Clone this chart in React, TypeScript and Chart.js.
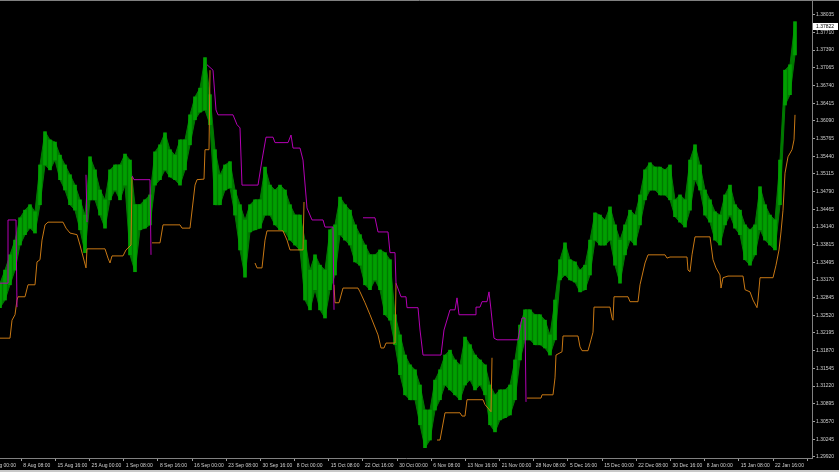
import React, { useEffect, useRef } from "react";
import { Chart, registerables } from "chart.js";

Chart.register(...registerables);

// Each price point covers this many chart bars (1 bar = 1 slot on the time axis)
const BARS_PER_BLOCK = 5;

// Price range (high / low) of each block, left to right
const priceHigh = [
  1.3311, 1.3335, 1.3363, 1.339, 1.3431, 1.3445, 1.3455, 1.3442, 1.3528, 1.3589,
  1.3574, 1.357, 1.3546, 1.3528, 1.351, 1.3491, 1.3464, 1.3436, 1.3543, 1.3519,
  1.3482, 1.3464, 1.3519, 1.3528, 1.3528, 1.3548, 1.3537, 1.3455, 1.3455, 1.3464,
  1.3473, 1.3552, 1.3565, 1.3587, 1.3556, 1.3546, 1.3574, 1.3574, 1.362, 1.3653,
  1.3669, 1.3725, 1.3657, 1.3556, 1.351, 1.3528, 1.3534, 1.3482, 1.3455, 1.3427,
  1.3455, 1.3464, 1.3464, 1.3524, 1.3491, 1.3482, 1.3491, 1.3482, 1.3455, 1.3436,
  1.3436, 1.339, 1.3335, 1.3363, 1.3344, 1.3335, 1.3409, 1.3418, 1.3469, 1.3455,
  1.3445, 1.3418, 1.34, 1.3381, 1.3363, 1.3363, 1.3372, 1.3367, 1.3354, 1.3253,
  1.3216, 1.3179, 1.3161, 1.3152, 1.3124, 1.3078, 1.3078, 1.3133, 1.3152, 1.3179,
  1.3188, 1.317, 1.3161, 1.3212, 1.3198, 1.3179, 1.317, 1.3161, 1.3124, 1.3106,
  1.3115, 1.3115, 1.3124, 1.317, 1.3234, 1.3262, 1.3262, 1.3253, 1.3253, 1.3243,
  1.3216, 1.328, 1.3354, 1.3385, 1.3354, 1.335, 1.3335, 1.3344, 1.339, 1.344,
  1.3436, 1.3427, 1.3451, 1.3418, 1.339, 1.3418, 1.3445, 1.3436, 1.3473, 1.3519,
  1.3532, 1.3524, 1.3524, 1.3519, 1.3528, 1.3464, 1.3473, 1.3464, 1.3537, 1.3565,
  1.3528, 1.3482, 1.3464, 1.3442, 1.3436, 1.3473, 1.3491, 1.3455, 1.3445, 1.3418,
  1.3409, 1.3418, 1.3488, 1.3455, 1.3436, 1.3427, 1.3537, 1.3702, 1.3712, 1.3791,
];

const priceLow = [
  1.3266, 1.328, 1.3308, 1.3335, 1.3381, 1.34, 1.3412, 1.3403, 1.3455, 1.3528,
  1.3519, 1.3537, 1.3501, 1.3482, 1.3455, 1.3445, 1.3409, 1.3367, 1.3464, 1.3464,
  1.3436, 1.3412, 1.3464, 1.3482, 1.3464, 1.3491, 1.3363, 1.3332, 1.3409, 1.3412,
  1.3418, 1.3491, 1.3501, 1.3519, 1.3506, 1.3501, 1.3491, 1.3519, 1.3565, 1.3611,
  1.3625, 1.3629, 1.3602, 1.3455, 1.3455, 1.3482, 1.3486, 1.3436, 1.3372, 1.3322,
  1.3405, 1.3409, 1.3412, 1.3436, 1.3436, 1.3418, 1.3409, 1.3405, 1.339, 1.3381,
  1.3372, 1.328, 1.3262, 1.3299, 1.3262, 1.3247, 1.3299, 1.3326, 1.34, 1.339,
  1.3381, 1.335, 1.3344, 1.3308, 1.3299, 1.3317, 1.3299, 1.3253, 1.3243, 1.3198,
  1.3143, 1.3106, 1.3097, 1.3097, 1.3051, 1.3009, 1.3023, 1.3078, 1.3097, 1.3124,
  1.3115, 1.3106, 1.3097, 1.3124, 1.3133, 1.3115, 1.3124, 1.3106, 1.3051, 1.3038,
  1.306, 1.3064, 1.3069, 1.3097, 1.317, 1.3207, 1.3207, 1.3198, 1.3198, 1.3192,
  1.3179, 1.3207, 1.3317, 1.3326, 1.3317, 1.3313, 1.3295, 1.3299, 1.3326, 1.339,
  1.3381, 1.3381, 1.339, 1.3344, 1.3311, 1.3363, 1.339, 1.3381, 1.3418, 1.3464,
  1.3482, 1.3482, 1.3473, 1.3473, 1.3464, 1.3433, 1.3423, 1.3414, 1.3445, 1.3501,
  1.3482, 1.3436, 1.3423, 1.339, 1.3381, 1.3418, 1.3436, 1.3412, 1.34, 1.3354,
  1.3344, 1.3363, 1.3409, 1.339, 1.3381, 1.3372, 1.3455, 1.3638, 1.3657, 1.373,
];

// Upper channel (magenta): [bar, price], null price = break
const upperLine: [number, number | null][] = [
  [0, 1.3311], [8, 1.3311], [8, 1.3427], [16, 1.3427], [17, 1.3267], [17, null],
  [86, 1.351], [87, 1.3423], [87, null],
  [132, 1.3508], [134, 1.3501], [150, 1.3501], [151, 1.3363], [151, null],
  [207, 1.3712], [213, 1.3702], [216, 1.3629], [218, 1.362], [233, 1.362], [237, 1.3602],
  [240, 1.3596], [242, 1.3491], [258, 1.3491], [262, 1.3537], [266, 1.3579], [273, 1.3579],
  [275, 1.3569], [288, 1.3569], [291, 1.3583], [293, 1.3559], [300, 1.3559], [303, 1.3537],
  [307, 1.3449], [312, 1.3427], [323, 1.3427], [325, 1.3414], [333, 1.3414], [334, 1.3262],
  [334, null],
  [363, 1.3431], [375, 1.3431], [378, 1.3405], [388, 1.3405], [390, 1.3367], [395, 1.3367],
  [396, 1.3311], [401, 1.3286], [406, 1.3286], [407, 1.3266], [418, 1.3266], [420, 1.3225],
  [423, 1.3179], [441, 1.3179], [444, 1.3225], [450, 1.3262], [455, 1.3262], [457, 1.3284],
  [459, 1.3253], [475, 1.3253], [476, 1.3267], [480, 1.3267], [482, 1.3277], [487, 1.3277],
  [489, 1.3295], [491, 1.3262], [494, 1.321], [497, 1.3207], [518, 1.3207], [522, 1.3247],
  [525, 1.3247], [526, 1.3093],
];

// Lower channel (orange): [bar, price], null price = break
const lowerLine: [number, number | null][] = [
  [0, 1.321], [10, 1.321], [12, 1.3243], [15, 1.3253], [17, 1.328], [18, 1.3286], [25, 1.3286],
  [28, 1.3308], [35, 1.3308], [37, 1.335], [40, 1.3354], [42, 1.339], [45, 1.3418], [48, 1.3423],
  [63, 1.3423], [66, 1.3412], [70, 1.3403], [77, 1.34], [80, 1.3381], [86, 1.3339], [87, 1.3374],
  [105, 1.3374], [108, 1.3357], [110, 1.3348], [112, 1.3361], [123, 1.3361], [126, 1.3372],
  [131, 1.3381], [132, 1.3506], [132, null],
  [152, 1.3385], [160, 1.3385], [163, 1.3418], [180, 1.3418], [182, 1.3412], [190, 1.3412],
  [195, 1.3491], [197, 1.3501], [204, 1.3502], [205, 1.3556], [209, 1.3556], [210, 1.3702],
  [210, null],
  [255, 1.3348], [257, 1.3339], [262, 1.3339], [265, 1.339], [267, 1.3407], [283, 1.3407],
  [287, 1.339], [290, 1.3372], [303, 1.3372], [304, 1.346], [304, null],
  [334, 1.3308], [335, 1.3275], [339, 1.3275], [343, 1.3302], [358, 1.3302], [360, 1.3295],
  [365, 1.3275], [370, 1.3253], [378, 1.3216], [381, 1.3192], [384, 1.3192], [386, 1.3201],
  [395, 1.3201], [396, 1.3311], [396, null],
  [437, 1.3023], [440, 1.3023], [445, 1.3073], [460, 1.3073], [462, 1.3067], [465, 1.3067],
  [467, 1.3097], [483, 1.3097], [485, 1.3088], [491, 1.3075], [492, 1.3174], [492, null],
  [527, 1.31], [541, 1.31], [542, 1.3106], [553, 1.3106], [555, 1.3137], [556, 1.3179],
  [562, 1.3185], [563, 1.3214], [578, 1.3214], [580, 1.3194], [582, 1.3187], [588, 1.3187],
  [591, 1.3207], [593, 1.3221], [594, 1.3267], [610, 1.3267], [612, 1.3247], [613, 1.3243],
  [614, 1.3286], [628, 1.3286], [630, 1.3277], [638, 1.3277], [640, 1.3308], [645, 1.3348],
  [648, 1.3363], [665, 1.3363], [667, 1.3357], [670, 1.3359], [687, 1.3359], [688, 1.3335],
  [690, 1.3332], [692, 1.3363], [695, 1.3396], [710, 1.3396], [713, 1.3354], [716, 1.3339],
  [720, 1.3326], [721, 1.3302], [723, 1.3321], [728, 1.3324], [743, 1.3324], [745, 1.3299],
  [750, 1.3295], [753, 1.328], [757, 1.3266], [758, 1.328], [760, 1.3321], [773, 1.3321],
  [776, 1.3344], [779, 1.3372], [781, 1.3405], [783, 1.3445], [785, 1.3513], [788, 1.3543],
  [792, 1.3556], [794, 1.3574], [795, 1.362],
];

// Time axis labels (first one only partly visible at the left edge)
const timeLabels = [
  "1 Aug 00:00", "8 Aug 08:00", "15 Aug 16:00", "25 Aug 00:00", "1 Sep 08:00", "8 Sep 16:00",
  "16 Sep 00:00", "23 Sep 08:00", "30 Sep 16:00", "8 Oct 00:00", "15 Oct 08:00", "22 Oct 16:00",
  "30 Oct 00:00", "6 Nov 08:00", "13 Nov 16:00", "21 Nov 00:00", "28 Nov 08:00", "5 Dec 16:00",
  "15 Dec 00:00", "22 Dec 08:00", "30 Dec 16:00", "8 Jan 00:00", "15 Jan 08:00", "22 Jan 16:00", "",
];
const FIRST_LABEL_BAR = -12.9;
const BARS_PER_LABEL = 34.17;
const TOTAL_BARS = 812;

// Price axis labels
const priceTicks = [
  1.38035, 1.3771, 1.3739, 1.37065, 1.3674, 1.36415, 1.3609, 1.35765, 1.3544, 1.35115,
  1.3479, 1.34465, 1.3414, 1.33815, 1.33495, 1.3317, 1.32845, 1.3252, 1.32195, 1.3187,
  1.31545, 1.3122, 1.30895, 1.3057, 1.30245, 1.2992,
];
const PRICE_MIN = 1.299;
const PRICE_MAX = 1.3829;
const lastPrice = 1.37822;

const GREEN_BODY = "#007a00";
const GREEN_BAR = "#00a000";
const MAGENTA = "#b400b4";
const ORANGE = "#c87814";
const AXIS_TEXT = "#d0d0d0";
const FONT = { family: "'Liberation Sans', Arial, sans-serif", size: 5 };

const framePlugin = {
  id: "mtFrame",
  afterDraw(chart: any) {
    const { ctx, chartArea, scales } = chart;
    ctx.save();
    ctx.strokeStyle = "#808080";
    ctx.lineWidth = 1;
    ctx.beginPath();
    ctx.moveTo(0, 0.5);
    ctx.lineTo(chart.width, 0.5);
    ctx.stroke();
    ctx.fillStyle = "#c8c8c8";
    ctx.fillRect(0, chart.height - 2, chart.width, 2);
    const y = scales.y.getPixelForValue(lastPrice);
    ctx.fillStyle = "#ffffff";
    ctx.fillRect(chartArea.right + 1, y - 3.5, chart.width - chartArea.right - 2, 7);
    ctx.fillStyle = "#000000";
    ctx.font = `${FONT.size}px ${FONT.family}`;
    ctx.textBaseline = "middle";
    ctx.textAlign = "left";
    ctx.fillText(lastPrice.toFixed(5), chartArea.right + 4, y);
    ctx.restore();
  },
};

export default function App() {
  const canvasRef = useRef<HTMLCanvasElement | null>(null);

  useEffect(() => {
    document.body.style.margin = "0";
    document.body.style.background = "#000";
    const canvas = canvasRef.current;
    if (!canvas) return;

    const highPts = priceHigh.map((v, i) => ({ x: i * BARS_PER_BLOCK, y: v }));
    const lowPts = priceLow.map((v, i) => ({ x: i * BARS_PER_BLOCK, y: v }));
    const rangeBars = priceHigh.map((h, i) => ({ x: i * BARS_PER_BLOCK, y: [priceLow[i], h] }));
    const toPoints = (arr: [number, number | null][]) => arr.map(([x, y]) => ({ x, y }));
    const labelBars = timeLabels.map((_, i) => FIRST_LABEL_BAR + i * BARS_PER_LABEL);

    const chart = new Chart(canvas, {
      type: "bar",
      data: {
        datasets: [
          {
            type: "line",
            data: highPts,
            borderColor: GREEN_BODY,
            borderWidth: 1,
            pointRadius: 0,
            tension: 0,
            fill: false,
            order: 6,
          },
          {
            type: "line",
            data: lowPts,
            borderColor: GREEN_BODY,
            backgroundColor: GREEN_BODY,
            borderWidth: 1,
            pointRadius: 0,
            tension: 0,
            fill: 0,
            order: 6,
          },
          {
            type: "bar",
            data: rangeBars as any,
            backgroundColor: GREEN_BAR,
            borderWidth: 0,
            barThickness: 3,
            order: 4,
          },
          {
            type: "line",
            data: toPoints(upperLine) as any,
            borderColor: MAGENTA,
            borderWidth: 1,
            pointRadius: 0,
            tension: 0,
            spanGaps: false,
            fill: false,
            order: 0,
          },
          {
            type: "line",
            data: toPoints(lowerLine) as any,
            borderColor: ORANGE,
            borderWidth: 1,
            pointRadius: 0,
            tension: 0,
            spanGaps: false,
            fill: false,
            order: 1,
          },
        ],
      } as any,
      options: {
        responsive: false,
        animation: false,
        devicePixelRatio: 1,
        events: [],
        layout: { padding: { top: 1, left: 0, right: 0, bottom: 0 } },
        plugins: { legend: { display: false }, tooltip: { enabled: false } },
        scales: {
          x: {
            type: "linear",
            min: 0,
            max: TOTAL_BARS,
            offset: false,
            afterBuildTicks: (s: any) => {
              s.ticks = labelBars.map((v) => ({ value: v }));
            },
            afterFit: (s: any) => {
              s.height = 14;
              s.paddingLeft = 0;
              s.paddingRight = 0;
            },
            ticks: {
              autoSkip: false,
              maxRotation: 0,
              minRotation: 0,
              align: "start",
              labelOffset: 2,
              padding: 2,
              color: AXIS_TEXT,
              font: FONT,
              callback: (_v: any, i: number) => timeLabels[i],
            },
            grid: {
              display: true,
              offset: false,
              drawOnChartArea: false,
              drawTicks: true,
              tickLength: 3,
              color: "#a0a0a0",
            },
            border: { display: true, color: "#808080" },
          },
          y: {
            type: "linear",
            position: "right",
            min: PRICE_MIN,
            max: PRICE_MAX,
            afterBuildTicks: (s: any) => {
              s.ticks = priceTicks.map((v) => ({ value: v }));
            },
            afterFit: (s: any) => {
              s.width = 27;
              s.paddingTop = 0;
              s.paddingBottom = 0;
            },
            ticks: {
              autoSkip: false,
              padding: 1,
              color: AXIS_TEXT,
              font: FONT,
              callback: (v: any) => Number(v).toFixed(5),
            },
            grid: {
              display: true,
              drawOnChartArea: false,
              drawTicks: true,
              tickLength: 3,
              color: "#a0a0a0",
            },
            border: { display: true, color: "#808080" },
          },
        },
      } as any,
      plugins: [framePlugin],
    });

    return () => chart.destroy();
  }, []);

  return (
    <div style={{ width: 839, height: 472, background: "#000" }}>
      <canvas ref={canvasRef} width={839} height={472} style={{ display: "block" }} />
    </div>
  );
}
